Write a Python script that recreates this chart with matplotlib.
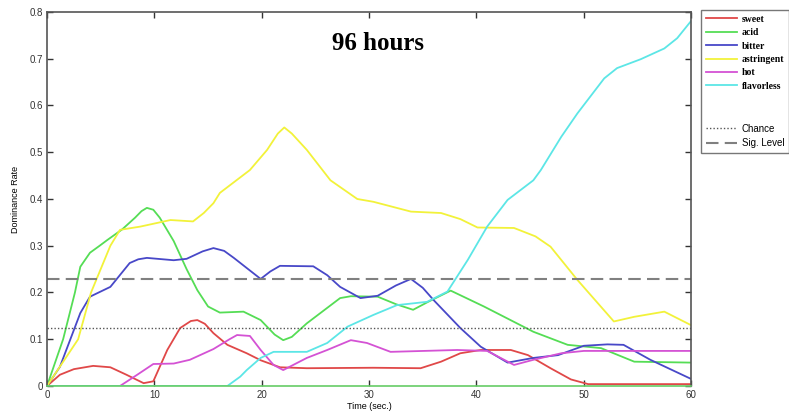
import matplotlib
matplotlib.use("Agg")
import matplotlib.pyplot as plt
from matplotlib.lines import Line2D

# values (time in sec, dominance rate)
sweet_t = [0, 1.2, 2.5, 4.3, 5.9, 7.4, 9.0, 9.9, 11.2, 12.4, 13.4, 14.0, 14.7, 15.5, 16.8, 18.6,
           19.9, 21.7, 24.2, 30.4, 34.8, 36.7, 38.5, 40.4, 43.2, 44.8, 46.9, 48.8, 50.4, 60]
sweet_v = [0, 0.024, 0.036, 0.043, 0.040, 0.024, 0.006, 0.010, 0.077, 0.124, 0.139, 0.141, 0.133,
           0.113, 0.088, 0.070, 0.055, 0.040, 0.038, 0.039, 0.038, 0.052, 0.070, 0.077, 0.077,
           0.066, 0.038, 0.014, 0.004, 0.004]

acid_t = [0, 1.5, 2.6, 3.1, 4.0, 4.9, 5.6, 7.0, 8.2, 8.8, 9.3, 9.9, 10.5, 11.8, 13.0, 14.0, 15.0,
          16.1, 18.3, 19.9, 21.2, 22.0, 22.8, 24.2, 27.3, 28.3, 30.8, 32.5, 34.1, 35.5, 37.6, 40.7,
          45.3, 48.5, 51.6, 54.7, 60]
acid_v = [0, 0.1, 0.2, 0.255, 0.285, 0.3, 0.312, 0.335, 0.36, 0.374, 0.381, 0.377, 0.36, 0.31,
          0.25, 0.205, 0.17, 0.157, 0.159, 0.141, 0.11, 0.098, 0.105, 0.134, 0.188, 0.192, 0.191,
          0.175, 0.163, 0.18, 0.204, 0.17, 0.116, 0.088, 0.081, 0.052, 0.05]

bitter_t = [0, 1.2, 3.1, 4.0, 5.9, 7.7, 8.5, 9.3, 11.8, 13.0, 14.5, 15.5, 16.5, 17.4, 19.9, 20.8,
            21.7, 24.8, 26.1, 27.3, 29.2, 30.8, 32.5, 33.9, 35.0, 36.0, 38.5, 40.4, 42.9, 45.3,
            47.6, 50.0, 52.2, 53.7, 56.2, 60]
bitter_v = [0, 0.041, 0.156, 0.191, 0.212, 0.263, 0.271, 0.274, 0.269, 0.272, 0.288, 0.295, 0.289,
            0.274, 0.229, 0.245, 0.257, 0.256, 0.237, 0.212, 0.188, 0.193, 0.215, 0.229, 0.21,
            0.184, 0.124, 0.084, 0.05, 0.06, 0.066, 0.086, 0.089, 0.088, 0.056, 0.015]

astringent_t = [0, 2.9, 4.1, 5.9, 6.8, 8.7, 11.5, 13.6, 14.6, 15.5, 16.1, 18.9, 20.5, 21.5, 22.1,
                22.8, 24.2, 26.4, 28.9, 30.4, 33.9, 36.7, 38.5, 40.1, 43.5, 45.5, 46.9, 49.4, 52.8,
                54.7, 57.5, 60]
astringent_v = [0, 0.1, 0.2, 0.3, 0.334, 0.341, 0.355, 0.352, 0.37, 0.391, 0.413, 0.462, 0.505,
                0.54, 0.553, 0.54, 0.505, 0.44, 0.400, 0.394, 0.373, 0.37, 0.357, 0.339, 0.338,
                0.32, 0.298, 0.227, 0.138, 0.148, 0.159, 0.13]

hot_t = [0, 6.8, 8.4, 9.9, 11.8, 13.3, 15.5, 17.0, 17.7, 18.9, 19.9, 21.1, 22.0, 24.2, 26.1, 28.3,
         29.8, 32.0, 38.2, 41.0, 43.5, 45.3, 47.9, 50.0, 60]
hot_v = [0, 0, 0.024, 0.047, 0.048, 0.056, 0.079, 0.1, 0.109, 0.107, 0.077, 0.045, 0.034, 0.06,
         0.077, 0.098, 0.092, 0.073, 0.077, 0.075, 0.045, 0.056, 0.07, 0.075, 0.075]

flavorless_t = [0, 16.8, 18.0, 18.6, 19.9, 21.1, 24.2, 26.1, 28.0, 30.4, 32.6, 35.4, 37.3, 39.2,
                41.0, 42.9, 45.3, 46.0, 47.9, 49.4, 51.9, 53.1, 55.3, 57.5, 58.7, 60]
flavorless_v = [0, 0, 0.02, 0.034, 0.06, 0.073, 0.073, 0.092, 0.127, 0.152, 0.173, 0.18, 0.202,
                0.27, 0.341, 0.398, 0.44, 0.462, 0.533, 0.583, 0.658, 0.68, 0.699, 0.722, 0.744,
                0.781]

CHANCE = 0.125
SIG_LEVEL = 0.228

series = [
    ("sweet", sweet_t, sweet_v, "#e04848"),
    ("acid", acid_t, acid_v, "#55dd55"),
    ("bitter", bitter_t, bitter_v, "#4848c8"),
    ("astringent", astringent_t, astringent_v, "#f2f23a"),
    ("hot", hot_t, hot_v, "#d452d4"),
    ("flavorless", flavorless_t, flavorless_v, "#5ce6e6"),
]

fig = plt.figure(figsize=(7.89, 4.18), dpi=100)
ax = fig.add_axes([0.0596, 0.0766, 0.8164, 0.8947])

for name, t, v, c in series:
    ax.plot(t, v, color=c, lw=1.3, solid_joinstyle="round")

ax.axhline(CHANCE, color="#555555", lw=1.0, dashes=(1, 1.5))
ax.axhline(SIG_LEVEL, color="#808080", lw=1.5, dashes=(6, 3))

ax.set_xlim(0, 60)
ax.set_ylim(0, 0.8)
ax.set_xticks(range(0, 61, 10))
ax.set_yticks([i / 10 for i in range(9)])
ax.set_yticklabels(["0"] + [f"{i / 10:.1f}" for i in range(1, 9)])
ax.tick_params(direction="in", length=4, width=1, top=True, right=True,
               labelsize=7, pad=3, colors="#333333")
for lab in ax.get_xticklabels() + ax.get_yticklabels():
    lab.set_fontfamily("Liberation Sans")
for s in ax.spines.values():
    s.set_color("#555555")
    s.set_linewidth(1.2)
ax.spines["bottom"].set_color("#66cc66")

ax.set_xlabel("Time (sec.)", fontsize=6.5, family="Liberation Sans", labelpad=1)
ax.set_ylabel("Dominance Rate", fontsize=6.5, family="Liberation Sans", labelpad=7)

ax.text(0.514, 0.915, "96 hours", transform=ax.transAxes, ha="center", va="center",
        fontsize=18, fontweight="bold", family="Liberation Serif")

# legend: six tastes, gap, then reference lines
handles = [Line2D([], [], color=c, lw=1.3) for _, _, _, c in series]
labels = [n for n, _, _, _ in series]
blank = Line2D([], [], color="none")
handles += [blank, blank,
            Line2D([], [], color="#555555", lw=1.0, dashes=(1, 1.5)),
            Line2D([], [], color="#808080", lw=1.5, dashes=(6, 3))]
labels += ["", "", "Chance", "Sig. Level"]
leg = fig.legend(handles, labels, loc="upper left", bbox_to_anchor=(701 / 789, 1 - 10 / 418),
                 fontsize=7, frameon=True, fancybox=False, handlelength=3.2,
                 handletextpad=0.5, labelspacing=0.45, borderpad=0.5, borderaxespad=0)
leg.get_frame().set_edgecolor("#555555")
leg.get_frame().set_linewidth(1.0)
for i, txt in enumerate(leg.get_texts()):
    if i < 6:
        txt.set_fontfamily("Liberation Serif")
        txt.set_fontweight("bold")
    else:
        txt.set_fontfamily("Liberation Sans")

fig.savefig("out.png", dpi=100)
